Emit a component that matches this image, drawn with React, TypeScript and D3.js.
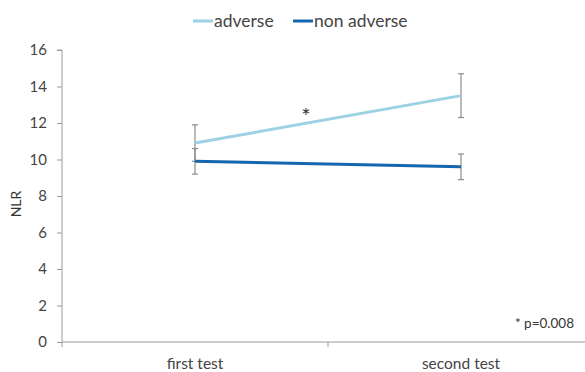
import React, { useEffect, useRef } from 'react';
import * as d3 from 'd3';

const categories = ['first test', 'second test'];
const seriesNames = ['adverse', 'non adverse'];
const adverse = [10.9, 13.5];
const adverseErr = [1.0, 1.2];
const nonAdverse = [9.9, 9.6];
const nonAdverseErr = [0.7, 0.7];
const yTicks = [0, 2, 4, 6, 8, 10, 12, 14, 16];
const colors = ['#9dd1e4', '#1467ae'];

const FONT = 'Lato, "Open Sans", sans-serif';

const App: React.FC = () => {
  const svgRef = useRef<SVGSVGElement | null>(null);

  useEffect(() => {
    const svg = d3.select(svgRef.current);
    svg.selectAll('*').remove();

    const width = 585;
    const height = 372;

    const x = d3.scaleBand().domain(categories).range([62, 594]);
    const y = d3.scaleLinear().domain([0, 16]).range([342, 50]);
    const cx = (c: string) => (x(c) || 0) + x.bandwidth() / 2;

    // y axis
    const yAxis = d3
      .axisLeft(y)
      .tickValues(yTicks)
      .tickSize(5)
      .tickPadding(10)
      .tickFormat((d) => `${d}`);
    const gy = svg.append('g').attr('transform', 'translate(62,0)').call(yAxis);
    gy.select('.domain').attr('stroke', '#9a9a9a').attr('d', `M-5,${y(16)}H0V${y(0)}`);
    gy.selectAll('.tick line').attr('stroke', '#9a9a9a');
    gy.selectAll('.tick text')
      .attr('fill', '#444')
      .style('font-family', FONT)
      .style('font-size', '15px');

    // x axis
    svg
      .append('line')
      .attr('x1', 62)
      .attr('x2', width)
      .attr('y1', y(0))
      .attr('y2', y(0))
      .attr('stroke', '#9a9a9a');
    [62, 62 + x.bandwidth()].forEach((t) => {
      svg
        .append('line')
        .attr('x1', t)
        .attr('x2', t)
        .attr('y1', y(0))
        .attr('y2', y(0) + 5)
        .attr('stroke', '#9a9a9a');
    });
    svg
      .selectAll('.xlab')
      .data(categories)
      .join('text')
      .attr('class', 'xlab')
      .attr('x', (d) => cx(d))
      .attr('y', 369)
      .attr('text-anchor', 'middle')
      .attr('fill', '#444')
      .style('font-family', FONT)
      .style('font-size', '15.5px')
      .text((d) => d);

    // y label
    svg
      .append('text')
      .attr('transform', 'translate(21,204) rotate(-90)')
      .attr('text-anchor', 'middle')
      .attr('fill', '#333')
      .style('font-family', FONT)
      .style('font-size', '14px')
      .text('NLR');

    const series = [
      { values: adverse, err: adverseErr, color: colors[0] },
      { values: nonAdverse, err: nonAdverseErr, color: colors[1] },
    ];

    const line = d3
      .line<number>()
      .x((d, i) => cx(categories[i]))
      .y((d) => y(d));

    // error bars
    series.forEach((s) => {
      s.values.forEach((v, i) => {
        const px = cx(categories[i]);
        const g = svg.append('g').attr('stroke', '#8c8c8c').attr('stroke-width', 1.2);
        g.append('line').attr('x1', px).attr('x2', px).attr('y1', y(v - s.err[i])).attr('y2', y(v + s.err[i]));
        [v - s.err[i], v + s.err[i]].forEach((e) => {
          g.append('line').attr('x1', px - 3).attr('x2', px + 3).attr('y1', y(e)).attr('y2', y(e));
        });
      });
    });

    series.forEach((s) => {
      svg
        .append('path')
        .datum(s.values)
        .attr('d', line)
        .attr('fill', 'none')
        .attr('stroke', s.color)
        .attr('stroke-width', 3);
    });

    // significance marker
    svg
      .append('text')
      .attr('x', 306)
      .attr('y', y(11.95))
      .attr('text-anchor', 'middle')
      .attr('fill', '#333')
      .style('font-family', FONT)
      .style('font-size', '22px')
      .text('*');

    svg
      .append('text')
      .attr('x', 574)
      .attr('y', 328)
      .attr('text-anchor', 'end')
      .attr('fill', '#333')
      .style('font-family', FONT)
      .style('font-size', '13.5px')
      .text('* p=0.008');

    // legend
    const legendX = [193, 293];
    seriesNames.forEach((name, i) => {
      const g = svg.append('g').attr('transform', `translate(${legendX[i]},21)`);
      g.append('line').attr('x1', 0).attr('x2', 20).attr('y1', 0).attr('y2', 0).attr('stroke', colors[i]).attr('stroke-width', 3);
      g.append('text')
        .attr('x', 21)
        .attr('y', 6)
        .attr('fill', '#444')
        .style('font-family', FONT)
        .style('font-size', '17.5px')
        .text(name);
    });

    svg.attr('width', width).attr('height', height);
  }, []);

  return (
    <svg
      ref={svgRef}
      style={{ position: 'absolute', left: 0, top: 0, background: '#fff' }}
      width={585}
      height={372}
    />
  );
};

export default App;
